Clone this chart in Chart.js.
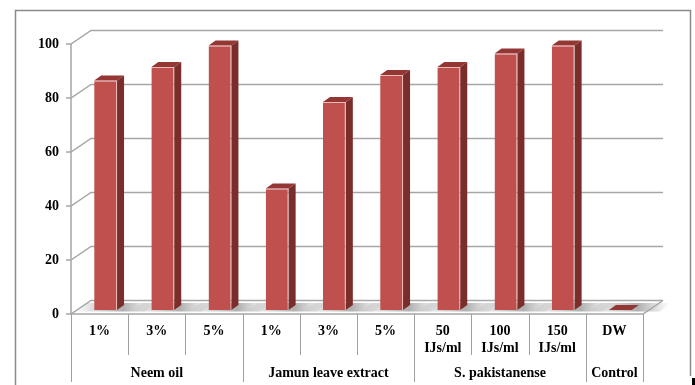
<!DOCTYPE html>
<html>
<head>
<meta charset="utf-8">
<script src="https://cdn.jsdelivr.net/npm/chart.js@4/dist/chart.umd.min.js"></script>
<style>
  html, body { margin: 0; padding: 0; background: #fff; }
  #wrap { width: 695px; height: 385px; position: relative; }
</style>
</head>
<body>
<div id="wrap"><canvas id="c" width="695" height="385"></canvas></div>
<script>
// Treatments along the category axis (two-line labels as arrays)
const categories = ['1%', '3%', '5%', '1%', '3%', '5%', ['50', 'IJs/ml'], ['100', 'IJs/ml'], ['150', 'IJs/ml'], 'DW'];
// Treatment groups and how many categories each covers
const groupNames = ['Neem oil', 'Jamun leave extract', 'S. pakistanense', 'Control'];
const groupSizes = [3, 3, 3, 1];
// Values per group
const neemOil = [85, 90, 98];
const jamunExtract = [45, 77, 87];
const sPakistanense = [90, 95, 98];
const controlDW = [0];
// Value axis ticks
const yTicks = [0, 20, 40, 60, 80, 100];

const values = [...neemOil, ...jamunExtract, ...sPakistanense, ...controlDW];

// Oblique 3D projection offsets
const WALL_DX = 20, WALL_DY = -13.5;   // depth of floor / side wall
const BAR_DX = 6, BAR_DY = -4;         // bar front face sits slightly back
const FACE_DX = 7, FACE_DY = -5;       // bar depth (top and side faces)

const FONT = 'bold 14px "Liberation Serif", "Times New Roman", serif';
const GRID = '#a6a6a6';

const scene3d = {
  id: 'scene3d',
  beforeDraw(chart) {
    const ctx = chart.ctx;
    ctx.save();
    ctx.fillStyle = '#fff';
    ctx.fillRect(0, 0, chart.width, chart.height);
    // outer frame
    ctx.strokeStyle = '#8a8a8a';
    ctx.lineWidth = 1.5;
    ctx.beginPath();
    ctx.moveTo(15.5, 385);
    ctx.lineTo(15.5, 10.5);
    ctx.lineTo(690.5, 10.5);
    ctx.lineTo(690.5, 376);
    ctx.stroke();
    ctx.fillStyle = '#000';
    ctx.fillRect(692, 378, 3, 7);
    ctx.restore();
  },
  beforeDatasetsDraw(chart) {
    const { ctx, chartArea: a, scales: { x, y } } = chart;
    const y0 = y.getPixelForValue(0);
    const meta = chart.getDatasetMeta(0);
    ctx.save();

    // soft shadows on the floor around each bar
    meta.data.forEach(b => {
      const xl = b.x - b.width / 2 + BAR_DX, xr = b.x + b.width / 2 + BAR_DX;
      const yf = y0 - 2.5, yb = y0 - 11;
      const g = ctx.createLinearGradient(xl - 20, 0, xr + 38, 0);
      g.addColorStop(0, 'rgba(130,130,130,0)');
      g.addColorStop(0.3, 'rgba(130,130,130,0.35)');
      g.addColorStop(0.6, 'rgba(110,110,110,0.55)');
      g.addColorStop(1, 'rgba(130,130,130,0)');
      ctx.fillStyle = g;
      ctx.beginPath();
      ctx.moveTo(xl - 20, yf);
      ctx.lineTo(xr + 28, yf);
      ctx.lineTo(xr + 40, yb);
      ctx.lineTo(xl - 8, yb);
      ctx.closePath();
      ctx.fill();
    });

    // side-wall and back-wall gridlines with tick marks
    ctx.strokeStyle = GRID;
    ctx.lineWidth = 1.5;
    yTicks.forEach(v => {
      const py = y.getPixelForValue(v);
      ctx.beginPath();
      ctx.moveTo(a.left - 5, py);
      ctx.lineTo(a.left, py);
      ctx.lineTo(a.left + WALL_DX, py + WALL_DY);
      ctx.lineTo(a.right + WALL_DX, py + WALL_DY);
      ctx.stroke();
    });
    // front value axis and floor edges
    ctx.beginPath();
    ctx.moveTo(a.left, y.getPixelForValue(yTicks[yTicks.length - 1]));
    ctx.lineTo(a.left, y0);
    ctx.lineTo(a.right, y0);
    ctx.lineTo(a.right + WALL_DX, y0 + WALL_DY);
    ctx.stroke();

    // category separators below the floor
    const step = x.getPixelForValue(1) - x.getPixelForValue(0);
    const bounds = new Set([0]);
    let acc = 0;
    groupSizes.forEach(s => { acc += s; bounds.add(acc); });
    ctx.strokeStyle = '#a0a0a0';
    ctx.lineWidth = 1;
    for (let k = 0; k <= categories.length; k++) {
      const px = Math.round(x.getPixelForValue(k) - step / 2) + 0.5;
      ctx.beginPath();
      ctx.moveTo(px, y0);
      ctx.lineTo(px, bounds.has(k) ? 382 : 355);
      ctx.stroke();
    }

    // category and group labels
    ctx.fillStyle = '#000';
    ctx.font = FONT;
    ctx.textAlign = 'center';
    ctx.textBaseline = 'alphabetic';
    categories.forEach((c, i) => {
      const lines = Array.isArray(c) ? c : [c];
      const px = x.getPixelForValue(i);
      lines.forEach((t, j) => ctx.fillText(t, px, y0 + 21 + j * 16.5));
    });
    let start = 0;
    groupNames.forEach((name, gi) => {
      const end = start + groupSizes[gi];
      const px = (x.getPixelForValue(start) + x.getPixelForValue(end - 1)) / 2;
      ctx.fillText(name, px, y0 + 63);
      start = end;
    });
    ctx.restore();

    // front faces are drawn by the bar controller, set back into the scene
    ctx.save();
    ctx.translate(BAR_DX, BAR_DY);
  },
  afterDatasetsDraw(chart) {
    const ctx = chart.ctx;
    ctx.restore();
    const meta = chart.getDatasetMeta(0);
    ctx.save();
    meta.data.forEach(b => {
      const xl = b.x - b.width / 2 + BAR_DX, xr = b.x + b.width / 2 + BAR_DX;
      const yt = b.y + BAR_DY, yb = b.base + BAR_DY;
      // side face
      ctx.fillStyle = '#7a2e2c';
      ctx.beginPath();
      ctx.moveTo(xr, yt);
      ctx.lineTo(xr + FACE_DX, yt + FACE_DY);
      ctx.lineTo(xr + FACE_DX, yb + FACE_DY);
      ctx.lineTo(xr, yb);
      ctx.closePath();
      ctx.fill();
      // top face
      ctx.fillStyle = '#933634';
      ctx.beginPath();
      ctx.moveTo(xl, yt);
      ctx.lineTo(xl + FACE_DX, yt + FACE_DY);
      ctx.lineTo(xr + FACE_DX, yt + FACE_DY);
      ctx.lineTo(xr, yt);
      ctx.closePath();
      ctx.fill();
    });
    ctx.restore();
  }
};

new Chart(document.getElementById('c'), {
  type: 'bar',
  data: {
    labels: categories,
    datasets: [{
      data: values,
      backgroundColor: '#c0504d',
      borderColor: '#ebbcba',
      borderWidth: { top: 1, right: 1, left: 0, bottom: 0 },
      borderSkipped: false,
      categoryPercentage: 0.4,
      barPercentage: 1,
      clip: false
    }]
  },
  options: {
    responsive: false,
    animation: false,
    events: [],
    layout: { padding: { top: 44, right: 52, left: 0, bottom: 0 } },
    plugins: { legend: { display: false }, tooltip: { enabled: false } },
    scales: {
      x: {
        ticks: { display: false },
        grid: { display: false, drawTicks: false },
        border: { display: false },
        afterFit(s) { s.height = 71; }
      },
      y: {
        min: 0,
        max: 100,
        ticks: {
          stepSize: 20,
          padding: 12,
          color: '#000',
          font: { family: '"Liberation Serif", "Times New Roman", serif', size: 14, weight: 'bold' }
        },
        grid: { display: false, drawTicks: false },
        border: { display: false },
        afterFit(s) { s.width = 71; }
      }
    }
  },
  plugins: [scene3d]
});
</script>
</body>
</html>
